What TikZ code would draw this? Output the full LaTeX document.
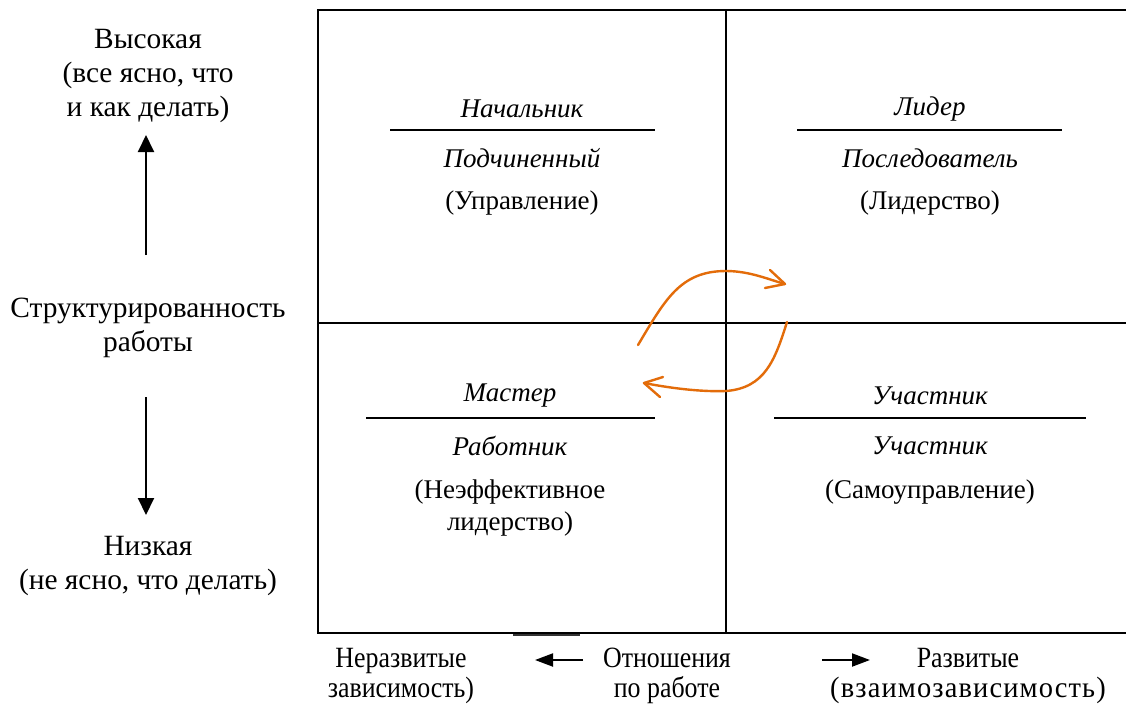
\documentclass[tikz,border=0pt]{standalone}
\usepackage{graphicx}
\usepackage{fontspec}
\setmainfont{Liberation Serif}
\usetikzlibrary{arrows.meta}
\definecolor{myorange}{HTML}{E36C0A}
\tikzset{
  txt/.style={inner sep=0pt, align=center, font=\fontsize{14.7}{17}\selectfont},
  qtxt/.style={inner sep=0pt, align=center, font=\fontsize{13.5}{16}\selectfont},
  itxt/.style={qtxt, font=\fontsize{13.5}{16}\selectfont\itshape},
  btxt/.style={inner sep=0pt, align=center, xscale=0.88, font=\fontsize{14.7}{15}\selectfont},
  frame/.style={line width=1.3pt},
  divider/.style={line width=0.65pt},
  vaxis/.style={line width=1pt, -{Triangle[length=8.5pt,width=8pt]}},
  haxis/.style={line width=1pt, -{Triangle[length=9pt,width=6.5pt]}},
  swirl/.style={myorange, line width=1.2pt, line cap=round, line join=round},
}
\begin{document}
\begin{tikzpicture}[x=0.5pt,y=-0.5pt]
\useasboundingbox (0,0) rectangle (1126,703);
\fill[white] (0,0) rectangle (1126,703);
% frame
\draw[frame] (1140,10) -- (318,10) -- (318,633) -- (1140,633);
\draw[line width=0.8pt] (726,10) -- (726,633);
\draw[line width=0.8pt] (318,323) -- (1140,323);
\draw[line width=1.2pt, black!80] (513,635) -- (580,635);
% left axis
\node[txt] (high) at (148,76) {Высокая\\(все ясно, что\\и как делать)};
\node[txt] (struct) at (148,328) {Структурированность\\работы};
\node[txt] (low) at (148,566) {Низкая\\(не ясно, что делать)};
\coordinate (upS) at (146,255);
\coordinate (upE) at (146,135);
\coordinate (dnS) at (146,397);
\coordinate (dnE) at (146,515);
\draw[vaxis] (upS) -- (upE);
\draw[vaxis] (dnS) -- (dnE);
% top-left
\node[itxt] (tl1) at (522,109) {Начальник};
\draw[divider] (390,130) -- (655,130);
\node[itxt] (tl2) at (522,158) {Подчиненный};
\node[qtxt] (tl3) at (522,203) {(Управление)};
% top-right
\node[itxt] (tr1) at (930,109) {Лидер};
\draw[divider] (797,130) -- (1062,130);
\node[itxt] (tr2) at (930,158) {Последователь};
\node[qtxt] (tr3) at (930,203) {(Лидерство)};
% bottom-left
\node[itxt] (bl1) at (510,396) {Мастер};
\draw[divider] (366,418) -- (655,418);
\node[itxt] (bl2) at (510,446) {Работник};
\node[qtxt] (bl3) at (510,508) {(Неэффективное\\лидерство)};
% bottom-right
\node[itxt] (br1) at (930,396) {Участник};
\draw[divider] (774,418) -- (1086,418);
\node[itxt] (br2) at (930,446) {Участник};
\node[qtxt] (br3) at (930,492) {(Самоуправление)};
% bottom axis
\node[btxt] (undev) at (401,676) {Неразвитые\\зависимость)};
\node[btxt] (rel) at (667,676) {Отношения\\по работе};
\node[btxt] (dev) at (968,676) {Развитые\\\scalebox{1.1}[1]{\addfontfeature{LetterSpace=4}(взаимозависимость)}};
\coordinate (lS) at (583,660);
\coordinate (lE) at (535,660);
\coordinate (rS) at (822,660);
\coordinate (rE) at (870,660);
\draw[haxis] (lS) -- (lE);
\draw[haxis] (rS) -- (rE);
% orange swirl
\draw[swirl] (638,345) .. controls (665,300) and (680,271) .. (726,271)
  .. controls (750,271) and (770,280) .. (785,284);
\draw[swirl] (770,270) -- (785,284) -- (765,288);
\draw[swirl] (787,322) .. controls (775,360) and (765,388) .. (726,391)
  .. controls (700,392) and (670,388) .. (644,383);
\draw[swirl] (663,377) -- (644,383) -- (660,397);
\end{tikzpicture}
\end{document}
